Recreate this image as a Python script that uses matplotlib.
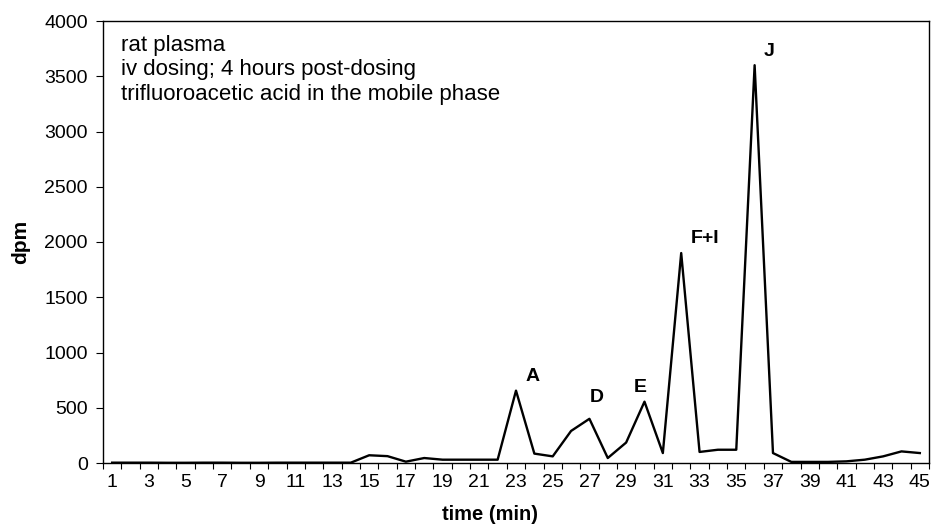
import matplotlib.pyplot as plt
from matplotlib.ticker import FixedLocator, MultipleLocator

plt.rcParams['font.family'] = ['Liberation Sans', 'DejaVu Sans']

# time points (min) and radioactivity (dpm)
time_min = list(range(1, 46))
dpm = [3, 3, 3, 2, 2, 3, 3, 2, 2, 3, 3, 3, 3, 3,
       70, 62, 12, 45, 30, 30, 30, 30,
       655, 85, 60, 290, 400, 45, 185, 555, 90,
       1900, 100, 120, 120, 3600, 90,
       10, 10, 10, 15, 30, 60, 105, 90]

peak_labels = ['A', 'D', 'E', 'F+I', 'J']
peak_times = [23.9, 27.4, 29.75, 33.3, 36.8]
peak_heights = [780, 590, 680, 2030, 3720]

info_lines = ['rat plasma',
              'iv dosing; 4 hours post-dosing',
              'trifluoroacetic acid in the mobile phase']

fig = plt.figure(figsize=(9.33, 5.26), dpi=100)
ax = fig.add_axes([103 / 933, 63 / 526, 826 / 933, 442 / 526])

ax.plot(time_min, dpm, color='black', linewidth=1.7)

ax.set_xlim(0.5, 45.5)
ax.set_ylim(0, 4000)

# category-style axis: ticks between categories, labels on odd ones
ax.xaxis.set_major_locator(FixedLocator([t for t in time_min if t % 2 == 1]))
ax.xaxis.set_minor_locator(FixedLocator([t + 0.5 for t in range(0, 46)]))
ax.tick_params(axis='x', which='major', length=0, labelsize=14, pad=8)
ax.tick_params(axis='x', which='minor', length=4, direction='out', width=0.8)
ax.yaxis.set_major_locator(MultipleLocator(500))
ax.tick_params(axis='y', which='major', length=5, direction='out', labelsize=14,
               width=0.8, pad=6)

for s in ax.spines.values():
    s.set_linewidth(1.0)

ax.set_xlabel('time (min)', fontsize=14.5, fontweight='bold')
ax.xaxis.set_label_coords(0.4685, -0.094)
ax.set_ylabel('dpm', fontsize=15, fontweight='bold', labelpad=10)

for lab, t, h in zip(peak_labels, peak_times, peak_heights):
    ax.text(t, h, lab, fontsize=14, fontweight='bold', ha='center', va='center')

ax.text(0.022, 0.968, '\n'.join(info_lines), transform=ax.transAxes,
        fontsize=16, va='top', ha='left', linespacing=1.2)

fig.savefig('out.png', dpi=100)
